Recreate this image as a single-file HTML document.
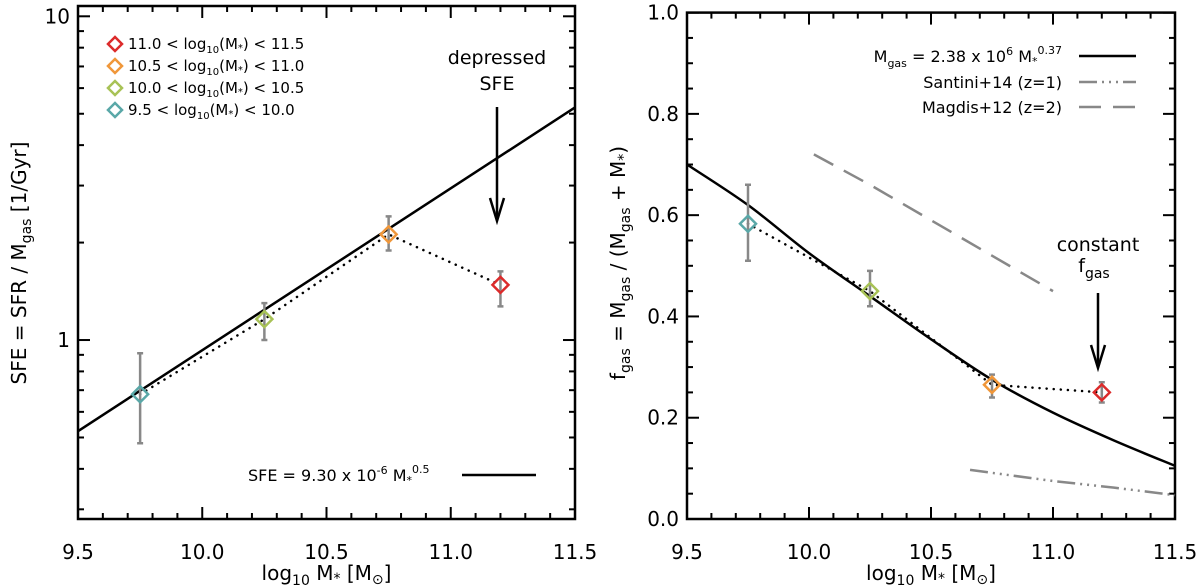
<!DOCTYPE html>
<html><head><meta charset="utf-8">
<style>
html,body{margin:0;padding:0;background:#fff;}
svg{display:block;font-family:"DejaVu Sans","Liberation Sans",sans-serif;}
</style></head>
<body>
<svg id="chart" width="1200" height="588" viewBox="0 0 1200 588" xmlns="http://www.w3.org/2000/svg">
<g id="left"></g>
<g id="right"></g>
</svg>
<script>
// ---- data ----
const binX = [9.75, 10.25, 10.75, 11.2];
const binColors = ["#5aa8a8", "#a8c256", "#f0973a", "#dc2b2b"];
const sfeVal = [0.68, 1.16, 2.12, 1.48];
const sfeLo = [0.48, 1.0, 1.89, 1.27];
const sfeHi = [0.91, 1.30, 2.41, 1.63];
const fgasVal = [0.583, 0.45, 0.265, 0.25];
const fgasLo = [0.51, 0.42, 0.24, 0.23];
const fgasHi = [0.66, 0.49, 0.285, 0.27];
const fitFX = [9.5, 9.75, 10.0, 10.25, 10.5, 10.75, 11.0, 11.25, 11.5];
const fitFY = [0.70, 0.62, 0.525, 0.44, 0.355, 0.275, 0.21, 0.155, 0.105];
const magdisX = [10.02, 10.25, 10.5, 10.75, 11.0];
const magdisY = [0.72, 0.66, 0.59, 0.52, 0.45];
const santiniX = [10.66, 11.0, 11.25, 11.5];
const santiniY = [0.097, 0.075, 0.062, 0.047];
const xTicks = [9.5, 10.0, 10.5, 11.0, 11.5];
const xTickLabels = ["9.5", "10.0", "10.5", "11.0", "11.5"];
const fTicks = [0, 0.2, 0.4, 0.6, 0.8, 1.0];
const fTickLabels = ["0.0", "0.2", "0.4", "0.6", "0.8", "1.0"];
const legendLabels = ["11.0 < log", "10.5 < log", "10.0 < log", "9.5 < log"];
const legendUpper = ["11.5", "11.0", "10.5", "10.0"];

const NS = "http://www.w3.org/2000/svg";
function mk(parent, tag, attrs, text) {
  const e = document.createElementNS(NS, tag);
  for (const k in attrs) e.setAttribute(k, attrs[k]);
  if (text !== undefined) e.textContent = text;
  parent.appendChild(e);
  return e;
}
const L = {x0: 78, x1: 575, y0: 6, y1: 519};
const R = {x0: 687, x1: 1175, y0: 12.6, y1: 519};
const xL = v => L.x0 + (v - 9.5) / 2 * (L.x1 - L.x0);
const xR = v => R.x0 + (v - 9.5) / 2 * (R.x1 - R.x0);
const lmin = Math.log10(0.28), lmax = Math.log10(10.76);
const yL = v => L.y1 - (Math.log10(v) - lmin) / (lmax - lmin) * (L.y1 - L.y0);
const yR = v => R.y1 - v * (R.y1 - R.y0);

const gl = document.getElementById('left');
const gr = document.getElementById('right');
const TF = 20;

function frame(g, P, xf) {
  const f = mk(g, 'rect', {x: P.x0, y: P.y0, width: P.x1 - P.x0, height: P.y1 - P.y0, fill: 'none', stroke: '#000', 'stroke-width': 2.5});
  
  
  for (let v = 9.5; v <= 11.501; v += 0.1) {
    const major = Math.abs(v * 2 - Math.round(v * 2)) < 1e-6;
    const len = major ? 12 : 6;
    const x = xf(v);
    mk(g, 'line', {x1: x, x2: x, y1: P.y1, y2: P.y1 - len, stroke: '#000', 'stroke-width': 2});
    mk(g, 'line', {x1: x, x2: x, y1: P.y0, y2: P.y0 + len, stroke: '#000', 'stroke-width': 2});
  }
  xTicks.forEach((v, i) => {
    const t = mk(g, 'text', {x: xf(v), y: 559, 'font-size': TF, 'text-anchor': 'middle'}, xTickLabels[i]);
    
    
  });
  const xt = mk(g, 'text', {x: (P.x0 + P.x1) / 2, y: 580, 'font-size': 20, 'text-anchor': 'middle'});
  
  
  xt.innerHTML = 'log<tspan font-size="14" dy="5">10</tspan><tspan dy="-5"> M</tspan><tspan font-size="14" dy="3">*</tspan><tspan dy="-3"> [M</tspan><tspan font-size="14" dy="4">⊙</tspan><tspan dy="-4">]</tspan>';
}
frame(gl, L, xL);
frame(gr, R, xR);

for (let d = -1; d <= 1; d++) {
  for (let m = 1; m <= 9; m++) {
    const v = m * Math.pow(10, d);
    if (v < 0.28 || v > 10.76) continue;
    const len = m === 1 ? 12 : 6;
    const y = yL(v);
    mk(gl, 'line', {x1: L.x0, x2: L.x0 + len, y1: y, y2: y, stroke: '#000', 'stroke-width': 2});
    mk(gl, 'line', {x1: L.x1, x2: L.x1 - len, y1: y, y2: y, stroke: '#000', 'stroke-width': 2});
  }
}
[[1, "1"], [10, "10"]].forEach(([v, s]) => {
  const t = mk(gl, 'text', {x: L.x0 - 8, y: yL(v) + 7, 'font-size': TF, 'text-anchor': 'end'}, s);
  
  
});
const ylt = mk(gl, 'text', {transform: 'translate(26,263) rotate(-90)', 'font-size': 20, 'text-anchor': 'middle'});


ylt.innerHTML = 'SFE = SFR / M<tspan font-size="14" dy="5">gas</tspan><tspan dy="-5"> [1/Gyr]</tspan>';

for (let v = 0; v <= 1.0001; v += 0.05) {
  const major = Math.abs(v * 5 - Math.round(v * 5)) < 1e-6;
  const len = major ? 12 : 6;
  const y = yR(v);
  mk(gr, 'line', {x1: R.x0, x2: R.x0 + len, y1: y, y2: y, stroke: '#000', 'stroke-width': 2});
  mk(gr, 'line', {x1: R.x1, x2: R.x1 - len, y1: y, y2: y, stroke: '#000', 'stroke-width': 2});
}
fTicks.forEach((v, i) => {
  const t = mk(gr, 'text', {x: R.x0 - 8, y: yR(v) + 7, 'font-size': TF, 'text-anchor': 'end'}, fTickLabels[i]);
  
  
});
const yrt = mk(gr, 'text', {transform: 'translate(625,263) rotate(-90)', 'font-size': 20, 'text-anchor': 'middle'});


yrt.innerHTML = 'f<tspan font-size="14" dy="5">gas</tspan><tspan dy="-5"> = M</tspan><tspan font-size="14" dy="5">gas</tspan><tspan dy="-5"> / (M</tspan><tspan font-size="14" dy="5">gas</tspan><tspan dy="-5"> + M</tspan><tspan font-size="14" dy="3">*</tspan><tspan dy="-3">)</tspan>';

function pathFrom(xs, ys, xf, yf) {
  return xs.map((x, i) => (i ? 'L' : 'M') + xf(x).toFixed(2) + ',' + yf(ys[i]).toFixed(2)).join(' ');
}
function smoothFrom(xs, ys, xf, yf) {
  const p = xs.map((x, i) => [xf(x), yf(ys[i])]);
  let d = 'M' + p[0][0] + ',' + p[0][1];
  for (let i = 0; i < p.length - 1; i++) {
    const p0 = p[Math.max(0, i - 1)], p1 = p[i], p2 = p[i + 1], p3 = p[Math.min(p.length - 1, i + 2)];
    const c1x = p1[0] + (p2[0] - p0[0]) / 6, c1y = p1[1] + (p2[1] - p0[1]) / 6;
    const c2x = p2[0] - (p3[0] - p1[0]) / 6, c2y = p2[1] - (p3[1] - p1[1]) / 6;
    d += ` C${c1x},${c1y} ${c2x},${c2y} ${p2[0]},${p2[1]}`;
  }
  return d;
}
const fitSX = [9.5, 11.5];
const fitSY = fitSX.map(v => 9.30e-6 * Math.pow(10, 0.5 * v));
const lm = mk(gl, 'path', {d: pathFrom(fitSX, fitSY, xL, yL), fill: 'none', stroke: '#000', 'stroke-width': 2.5});


const rm = mk(gr, 'path', {d: smoothFrom(fitFX, fitFY, xR, yR), fill: 'none', stroke: '#000', 'stroke-width': 2.5});



const mg1 = mk(gr, 'path', {d: pathFrom(magdisX, magdisY, xR, yR), fill: 'none', stroke: '#888', 'stroke-width': 2.5, 'stroke-dasharray': '22,12'});


const st1 = mk(gr, 'path', {d: pathFrom(santiniX, santiniY, xR, yR), fill: 'none', stroke: '#888', 'stroke-width': 2.5, 'stroke-dasharray': '18,5,2,5,2,5,2,5'});



function points(g, xf, yf, vals, lo, hi, name) {
  const c = mk(g, 'path', {d: pathFrom(binX, vals, xf, yf), fill: 'none', stroke: '#000', 'stroke-width': 2.5, 'stroke-dasharray': '0.1,7', 'stroke-linecap': 'round'});
  
  
  binX.forEach((x, i) => {
    const px = xf(x);
    const eb = mk(g, 'path', {d: `M${px},${yf(lo[i])} L${px},${yf(hi[i])} M${px-3},${yf(lo[i])} L${px+3},${yf(lo[i])} M${px-3},${yf(hi[i])} L${px+3},${yf(hi[i])}`, stroke: '#888', 'stroke-width': 2.5, fill: 'none'});
    
    
    const py = yf(vals[i]);
    const d = mk(g, 'path', {d: `M${px},${py-8} L${px+8},${py} L${px},${py+8} L${px-8},${py} Z`, fill: 'none', stroke: binColors[i], 'stroke-width': 2.5});
    
    
  });
}
points(gl, xL, yL, sfeVal, sfeLo, sfeHi, 'sfe');
points(gr, xR, yR, fgasVal, fgasLo, fgasHi, 'fgas');

const legY = [44, 66, 88, 110];
const legColorIdx = [3, 2, 1, 0];
legendLabels.forEach((s, i) => {
  const y = legY[i];
  const d = mk(gl, 'path', {d: `M115,${y-7} L122,${y} L115,${y+7} L108,${y} Z`, fill: 'none', stroke: binColors[legColorIdx[i]], 'stroke-width': 2.5});
  
  
  const t = mk(gl, 'text', {x: 128, y: y + 5, 'font-size': 15});
  
  
  t.innerHTML = s + '<tspan font-size="10" dy="4">10</tspan><tspan dy="-4">(M</tspan><tspan font-size="10" dy="2">*</tspan><tspan dy="-2">) &lt; ' + legendUpper[i] + '</tspan>';
});
const lfit = mk(gl, 'text', {x: 248, y: 481, 'font-size': 16});


lfit.innerHTML = 'SFE = 9.30 x 10<tspan font-size="11" dy="-7">-6</tspan><tspan dy="7"> M</tspan><tspan font-size="11" dy="3">*</tspan><tspan font-size="11" dy="-11">0.5</tspan>';
mk(gl, 'line', {x1: 462, x2: 536, y1: 475, y2: 475, stroke: '#000', 'stroke-width': 2.5});

const a1 = mk(gl, 'text', {x: 497, y: 64, 'font-size': 19, 'text-anchor': 'middle'}, 'depressed');


mk(gl, 'text', {x: 497, y: 90, 'font-size': 19, 'text-anchor': 'middle'}, 'SFE');
mk(gl, 'line', {x1: 497, x2: 497, y1: 107, y2: 220, stroke: '#000', 'stroke-width': 2.5});
mk(gl, 'path', {d: 'M490,198 L497,221 L504,198', fill: 'none', stroke: '#000', 'stroke-width': 2.5});

const rl = [
  {y: 62, html: 'M<tspan font-size="11" dy="5">gas</tspan><tspan dy="-5"> = 2.38 x 10</tspan><tspan font-size="11" dy="-7">6</tspan><tspan dy="7"> M</tspan><tspan font-size="11" dy="3">*</tspan><tspan font-size="11" dy="-11">0.37</tspan>', dash: '', col: '#000'},
  {y: 88, html: 'Santini+14 (z=1)', dash: '18,5,2,5,2,5,2,5', col: '#888'},
  {y: 113, html: 'Magdis+12 (z=2)', dash: '22,12', col: '#888'}
];
rl.forEach(r => {
  const t = mk(gr, 'text', {x: 1062, y: r.y, 'font-size': 16, 'text-anchor': 'end'});
  
  
  t.innerHTML = r.html;
  const attrs = {x1: 1079, x2: 1136, y1: r.y - 6, y2: r.y - 6, stroke: r.col, 'stroke-width': 2.5};
  if (r.dash) attrs['stroke-dasharray'] = r.dash;
  mk(gr, 'line', attrs);
});

const a2 = mk(gr, 'text', {x: 1098, y: 251, 'font-size': 19, 'text-anchor': 'middle'}, 'constant');


const a3 = mk(gr, 'text', {x: 1094, y: 272, 'font-size': 19, 'text-anchor': 'middle'});
a3.innerHTML = 'f<tspan font-size="14" dy="6">gas</tspan>';
mk(gr, 'line', {x1: 1098, x2: 1098, y1: 293, y2: 367, stroke: '#000', 'stroke-width': 2.5});
mk(gr, 'path', {d: 'M1091,345 L1098,368 L1105,345', fill: 'none', stroke: '#000', 'stroke-width': 2.5});
</script>
</body></html>
